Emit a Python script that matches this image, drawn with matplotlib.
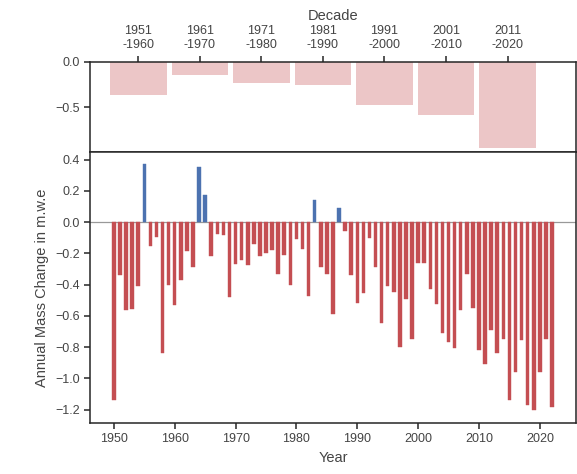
import matplotlib
matplotlib.use('Agg')
import matplotlib.pyplot as plt

plt.rcParams['font.family'] = ['Liberation Sans', 'DejaVu Sans']
plt.rcParams['axes.edgecolor'] = '#262626'
plt.rcParams['axes.linewidth'] = 1.1
plt.rcParams['xtick.color'] = '#262626'
plt.rcParams['ytick.color'] = '#262626'
plt.rcParams['xtick.major.size'] = 4
plt.rcParams['ytick.major.size'] = 4
plt.rcParams['xtick.major.width'] = 1.1
plt.rcParams['ytick.major.width'] = 1.1

# annual mass balance (m w.e.)
years = list(range(1950, 2023))
mass_change = [
    -1.14, -0.34, -0.56, -0.555, -0.41, 0.37, -0.155, -0.095, -0.835, -0.405,
    -0.53, -0.37, -0.185, -0.29, 0.355, 0.175, -0.22, -0.075, -0.08, -0.48,
    -0.265, -0.24, -0.275, -0.14, -0.215, -0.2, -0.18, -0.33, -0.21, -0.40,
    -0.11, -0.17, -0.47, 0.14, -0.29, -0.33, -0.59, 0.09, -0.06, -0.34,
    -0.52, -0.455, -0.10, -0.285, -0.645, -0.41, -0.445, -0.80, -0.49, -0.745,
    -0.26, -0.26, -0.43, -0.525, -0.71, -0.765, -0.805, -0.56, -0.335, -0.55,
    -0.815, -0.91, -0.69, -0.835, -0.745, -1.135, -0.96, -0.755, -1.17, -1.205,
    -0.96, -0.745, -1.185,
]

# decadal means
decades = ['1951\n-1960', '1961\n-1970', '1971\n-1980', '1981\n-1990',
           '1991\n-2000', '2001\n-2010', '2011\n-2020']
decade_mean = [-0.36, -0.145, -0.235, -0.26, -0.475, -0.585, -0.94]

red = '#C44E52'
blue = '#4C72B0'

fig, (ax1, ax2) = plt.subplots(2, 1, figsize=(5.77, 4.74), dpi=100,
                               gridspec_kw={'height_ratios': [1, 3], 'hspace': 0})
plt.subplots_adjust(left=0.156, right=0.998, top=0.870, bottom=0.108)

# top panel - decades
ax1.bar(range(len(decades)), decade_mean, width=0.92, color=red, alpha=0.32)
ax1.set_ylim(top=0)
ax1.set_xlim(-0.785, 7.11)
ax1.set_yticks([0.0, -0.5])
ax1.xaxis.tick_top()
ax1.xaxis.set_label_position('top')
ax1.set_xticks(range(len(decades)))
ax1.set_xticklabels(decades, fontsize=9, color='#444444')
ax1.tick_params(axis='y', labelsize=9, labelcolor='#444444')
ax1.set_xlabel('Decade', fontsize=10.5, color='#444444', labelpad=4)

# bottom panel - annual
colors = [blue if v > 0 else red for v in mass_change]
ax2.axhline(0, color='#999999', lw=0.9, zorder=0)
ax2.bar(years, mass_change, width=0.58, color=colors, edgecolor=colors, linewidth=0.3)
ax2.set_yticks([0.4, 0.2, 0.0, -0.2, -0.4, -0.6, -0.8, -1.0, -1.2])
ax2.tick_params(labelsize=9, labelcolor='#444444')
ax2.set_xlabel('Year', fontsize=10.5, color='#444444', labelpad=4)
ax2.set_ylabel('Annual Mass Change in m.w.e', fontsize=10.5, color='#444444')

plt.savefig('out.png')
